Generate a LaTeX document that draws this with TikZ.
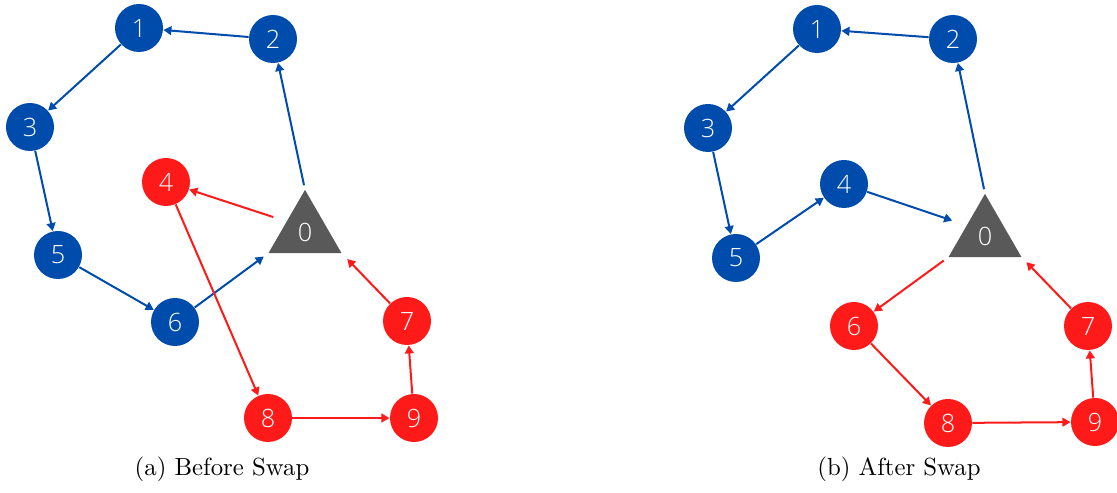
\documentclass[tikz,border=0pt]{standalone}
\usepackage{fontspec}
\IfFontExistsTF{Open Sans Light}
  {\newfontfamily\numfont{Open Sans Light}}
  {\newfontfamily\numfont{Open Sans}}
\usetikzlibrary{arrows.meta,shapes.geometric}
\definecolor{cRoute}{RGB}{0,76,173}
\definecolor{cSwap} {RGB}{255,26,26}
\definecolor{cDepot}{RGB}{89,89,89}
\tikzset{
  >={Triangle[length=1.2mm,width=1.3mm]},
  cust/.style={circle,minimum size=7.15mm,inner sep=0pt,text=white,
               font=\numfont\fontsize{10.7}{12}\selectfont},
  custB/.style={cust,fill=cRoute},   % customer on the blue route
  custR/.style={cust,fill=cSwap},    % customer on the red route
  depot/.style={regular polygon,regular polygon sides=3,minimum size=12.55mm,
                inner sep=0pt,outer sep=0pt,fill=cDepot,text=white,
                font=\numfont\fontsize{10.7}{12}\selectfont},
  legB/.style={->,cRoute,line width=0.85pt},
  legR/.style={->,cSwap,line width=0.85pt},
  subcap/.style={font=\fontsize{10.5}{12}\selectfont},
}
\begin{document}
\begin{tikzpicture}[x=1.4894mm,y=1.4894mm]
  \useasboundingbox (0,0) rectangle (111.7,49.3);
  % (a) routes before the swap
  \node[depot] (a0) at (30.5,26.1) {0};
  \node[custB] (a1) at (13.9,46.5) {1};
  \node[custB] (a2) at (27.3,45.4) {2};
  \node[custB] (a3) at (3.0,36.6)  {3};
  \node[custR] (a4) at (16.6,31.1) {4};
  \node[custB] (a5) at (5.8,23.8)  {5};
  \node[custB] (a6) at (17.5,17.1) {6};
  \node[custR] (a7) at (40.7,17.2) {7};
  \node[custR] (a8) at (26.8,7.5)  {8};
  \node[custR] (a9) at (41.4,7.5)  {9};
  \draw[legB,shorten <=2pt] (a0.corner 1) -- (a2);
  \draw[legB] (a2) -- (a1);
  \draw[legB] (a1) -- (a3);
  \draw[legB] (a3) -- (a5);
  \draw[legB] (a5) -- (a6);
  \draw[legB,shorten >=2.5pt] (a6) -- (a0.corner 2);
  \draw[legR,shorten <=6pt] (a0.side 1) -- (a4);
  \draw[legR] (a4) -- (a8);
  \draw[legR] (a8) -- (a9);
  \draw[legR] (a9) -- (a7);
  \draw[legR,shorten >=3.5pt] (a7) -- (a0.corner 3);
  \node[subcap] (capA) at (22.2,2.4) {(a) Before Swap};
  % (b) routes after the swap
  \node[depot] (b0) at (98.5,25.7) {0};
  \node[custB] (b1) at (81.7,46.4) {1};
  \node[custB] (b2) at (95.3,45.4) {2};
  \node[custB] (b3) at (70.8,36.5) {3};
  \node[custB] (b4) at (84.4,30.9) {4};
  \node[custB] (b5) at (73.6,23.5) {5};
  \node[custR] (b6) at (85.4,16.7) {6};
  \node[custR] (b7) at (108.8,16.7){7};
  \node[custR] (b8) at (94.8,7.0)  {8};
  \node[custR] (b9) at (109.5,7.1) {9};
  \draw[legB,shorten <=2pt] (b0.corner 1) -- (b2);
  \draw[legB] (b2) -- (b1);
  \draw[legB] (b1) -- (b3);
  \draw[legB] (b3) -- (b5);
  \draw[legB] (b5) -- (b4);
  \draw[legB,shorten >=6.5pt] (b4) -- (b0.side 1);
  \draw[legR,shorten <=2.5pt] (b0.corner 2) -- (b6);
  \draw[legR] (b6) -- (b8);
  \draw[legR] (b8) -- (b9);
  \draw[legR] (b9) -- (b7);
  \draw[legR,shorten >=3pt] (b7) -- (b0.corner 3);
  \node[subcap] (capB) at (89.9,2.4) {(b) After Swap};
\end{tikzpicture}
\end{document}
